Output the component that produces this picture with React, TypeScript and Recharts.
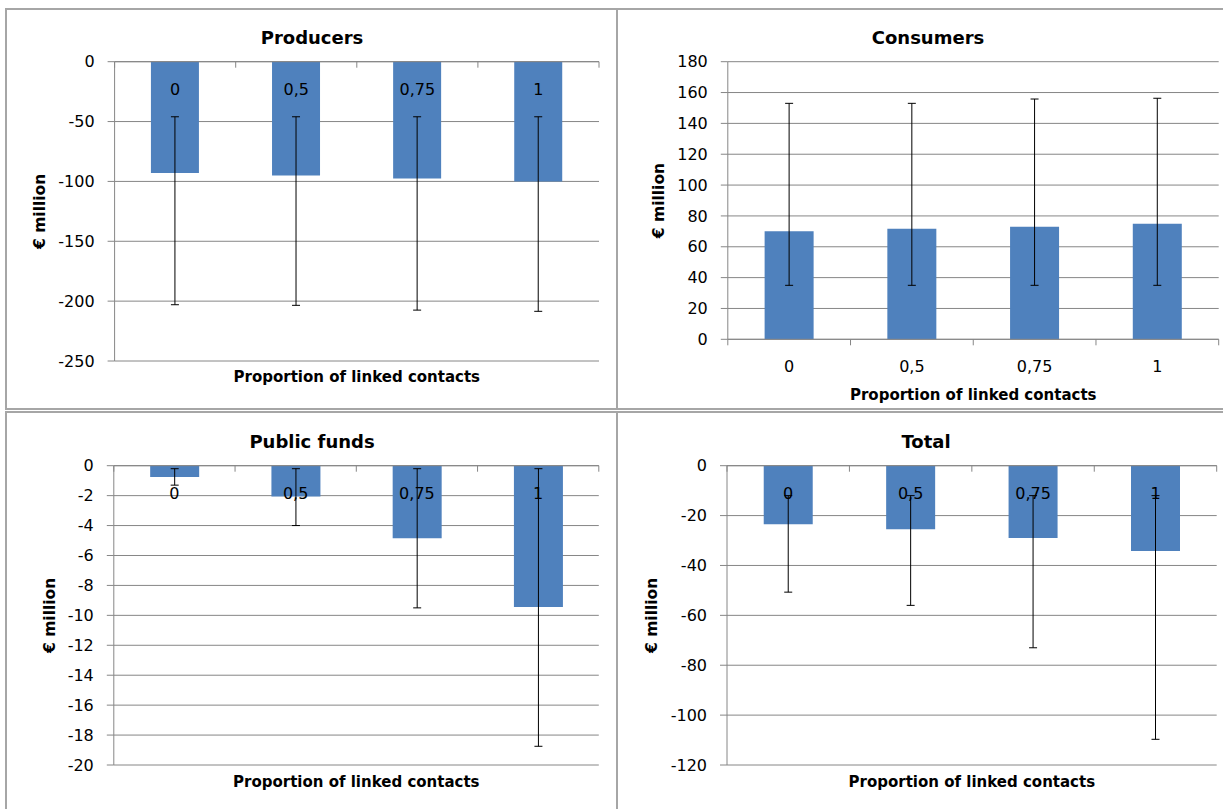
import React from "react";
import { BarChart, Bar, XAxis, YAxis, CartesianGrid, ErrorBar } from "recharts";

const categories = ["0", "0,5", "0,75", "1"];

const producersValues = [-93, -95, -97.5, -100];
const producersLow = [-203, -203.5, -207.5, -208.5];
const producersHigh = [-46, -46, -46, -46];
const producersTicks = [-250, -200, -150, -100, -50, 0];

const consumersValues = [70, 71.7, 73, 75];
const consumersLow = [35, 35, 35, 35];
const consumersHigh = [153, 153, 155.8, 156.3];
const consumersTicks = [0, 20, 40, 60, 80, 100, 120, 140, 160, 180];

const publicValues = [-0.75, -2.05, -4.85, -9.45];
const publicLow = [-1.3, -4, -9.5, -18.75];
const publicHigh = [-0.2, -0.2, -0.2, -0.2];
const publicTicks = [-20, -18, -16, -14, -12, -10, -8, -6, -4, -2, 0];

const totalValues = [-23.5, -25.5, -29, -34.2];
const totalLow = [-50.7, -56, -73, -109.7];
const totalHigh = [-12, -12, -12, -12];
const totalTicks = [-120, -100, -80, -60, -40, -20, 0];

const FONT = "'DejaVu Sans', sans-serif";
const AXIS = "#868686";
const BAR = "#4F81BD";
const BORDER = "#a6a6a6";

type PanelProps = {
  title: string;
  values: number[];
  low: number[];
  high: number[];
  ticks: number[];
  negative: boolean;
  left: number;
  top: number;
  width: number;
  height: number;
  marginTop: number;
  marginRight: number;
  yWidth: number;
  bottomH: number;
  yLabelX: number;
  titleX: number;
  titleY: number;
  xTitleDy: number;
};

const CatTick = (props: any) => {
  const { x, y, payload, index, visibleTicksCount, width } = props;
  let half = payload && payload.offset ? payload.offset : 0;
  if (!half && typeof width === "number") half = width / (visibleTicksCount || 4) / 2;
  return (
    <g>
      <line x1={x - half} x2={x - half} y1={y} y2={y + 6} stroke={AXIS} strokeWidth={1} />
      {index === visibleTicksCount - 1 && (
        <line x1={x + half} x2={x + half} y1={y} y2={y + 6} stroke={AXIS} strokeWidth={1} />
      )}
      <text
        x={x}
        y={y + 27.5}
        textAnchor="middle"
        dominantBaseline="central"
        fontFamily={FONT}
        fontSize={16}
        fill="#000"
      >
        {payload.value}
      </text>
    </g>
  );
};

function Panel(p: PanelProps) {
  const data = categories.map((c, i) => ({
    cat: c,
    value: p.values[i],
    err: [p.values[i] - p.low[i], p.high[i] - p.values[i]],
  }));
  const domain: [number, number] = [p.ticks[0], p.ticks[p.ticks.length - 1]];
  const xTitle = (lp: any) => {
    const vb = lp.viewBox || {};
    return (
      <text
        x={vb.x + vb.width / 2}
        y={vb.y + p.xTitleDy}
        textAnchor="middle"
        dominantBaseline="central"
        fontFamily={FONT}
        fontWeight="bold"
        fontSize={15}
        fill="#000"
      >
        Proportion of linked contacts
      </text>
    );
  };
  const yTitle = (lp: any) => {
    const vb = lp.viewBox || {};
    const cx = vb.x + p.yLabelX;
    const cy = vb.y + vb.height / 2;
    return (
      <text
        x={cx}
        y={cy}
        transform={`rotate(-90 ${cx} ${cy})`}
        textAnchor="middle"
        dominantBaseline="central"
        fontFamily={FONT}
        fontWeight="bold"
        fontSize={15.5}
        fill="#000"
      >
        € million
      </text>
    );
  };
  return (
    <div style={{ position: "absolute", left: p.left, top: p.top, width: p.width, height: p.height }}>
      <div
        style={{
          position: "absolute",
          left: p.titleX,
          top: p.titleY,
          transform: "translate(-50%, -50%)",
          fontFamily: FONT,
          fontWeight: "bold",
          fontSize: 18,
          whiteSpace: "nowrap",
          color: "#000",
          lineHeight: 1,
        }}
      >
        {p.title}
      </div>
      <BarChart
        width={p.width}
        height={p.height}
        data={data}
        margin={{ top: p.negative ? p.marginTop - 1 : p.marginTop, right: p.marginRight, bottom: 0, left: 0 }}
        barCategoryGap="30%"
      >
        <CartesianGrid vertical={false} stroke={AXIS} strokeWidth={1} />
        <YAxis
          type="number"
          domain={domain}
          ticks={p.ticks}
          interval={0}
          width={p.yWidth}
          tickSize={7}
          tickMargin={13}
          axisLine={{ stroke: AXIS }}
          tickLine={{ stroke: AXIS }}
          tick={{ fontFamily: FONT, fontSize: 16, fill: "#000" }}
          allowDataOverflow
          label={{ content: yTitle }}
        />
        <Bar dataKey="value" xAxisId="cat" fill={BAR} isAnimationActive={false}>
          <ErrorBar dataKey="err" width={4} stroke="#000" strokeWidth={1} direction="y" />
        </Bar>
        <XAxis
          xAxisId="cat"
          dataKey="cat"
          type="category"
          orientation={p.negative ? "top" : "bottom"}
          height={p.negative ? 1 : p.bottomH}
          tickSize={0}
          tickMargin={0}
          interval={0}
          axisLine={{ stroke: AXIS }}
          tickLine={false}
          tick={<CatTick />}
          label={p.negative ? undefined : { content: xTitle }}
        />
        {p.negative && (
          <XAxis
            xAxisId="title"
            dataKey="cat"
            type="category"
            orientation="bottom"
            height={p.bottomH}
            tick={false}
            axisLine={false}
            tickLine={false}
            label={{ content: xTitle }}
          />
        )}
      </BarChart>
    </div>
  );
}

export default function App() {
  return (
    <div
      style={{
        position: "absolute",
        left: 0,
        top: 0,
        width: 1223,
        height: 809,
        overflow: "hidden",
        background: "#fff",
      }}
    >
      <div style={{ position: "absolute", left: 5, top: 8, width: 613, height: 402, border: `2px solid ${BORDER}`, boxSizing: "border-box" }} />
      <div style={{ position: "absolute", left: 616, top: 8, width: 700, height: 402, border: `2px solid ${BORDER}`, boxSizing: "border-box" }} />
      <div style={{ position: "absolute", left: 5, top: 411, width: 613, height: 500, border: `2px solid ${BORDER}`, boxSizing: "border-box" }} />
      <div style={{ position: "absolute", left: 616, top: 411, width: 700, height: 500, border: `2px solid ${BORDER}`, boxSizing: "border-box" }} />

      <Panel
        title="Producers"
        values={producersValues}
        low={producersLow}
        high={producersHigh}
        ticks={producersTicks}
        negative
        left={5}
        top={8}
        width={612}
        height={400}
        marginTop={53.7}
        marginRight={18}
        yWidth={109.6}
        bottomH={47}
        yLabelX={35.5}
        titleX={307}
        titleY={30.3}
        xTitleDy={15.7}
      />
      <Panel
        title="Consumers"
        values={consumersValues}
        low={consumersLow}
        high={consumersHigh}
        ticks={consumersTicks}
        negative={false}
        left={616}
        top={8}
        width={607}
        height={400}
        marginTop={53.7}
        marginRight={4.3}
        yWidth={111.8}
        bottomH={68.7}
        yLabelX={43.4}
        titleX={312}
        titleY={30.3}
        xTitleDy={55.7}
      />
      <Panel
        title="Public funds"
        values={publicValues}
        low={publicLow}
        high={publicHigh}
        ticks={publicTicks}
        negative
        left={5}
        top={411}
        width={612}
        height={398}
        marginTop={54.7}
        marginRight={18.2}
        yWidth={108.8}
        bottomH={44}
        yLabelX={45.4}
        titleX={307}
        titleY={30.7}
        xTitleDy={16.7}
      />
      <Panel
        title="Total"
        values={totalValues}
        low={totalLow}
        high={totalHigh}
        ticks={totalTicks}
        negative
        left={616}
        top={411}
        width={607}
        height={398}
        marginTop={54.7}
        marginRight={6.3}
        yWidth={111}
        bottomH={44}
        yLabelX={36.5}
        titleX={310}
        titleY={30.7}
        xTitleDy={16.7}
      />
    </div>
  );
}
